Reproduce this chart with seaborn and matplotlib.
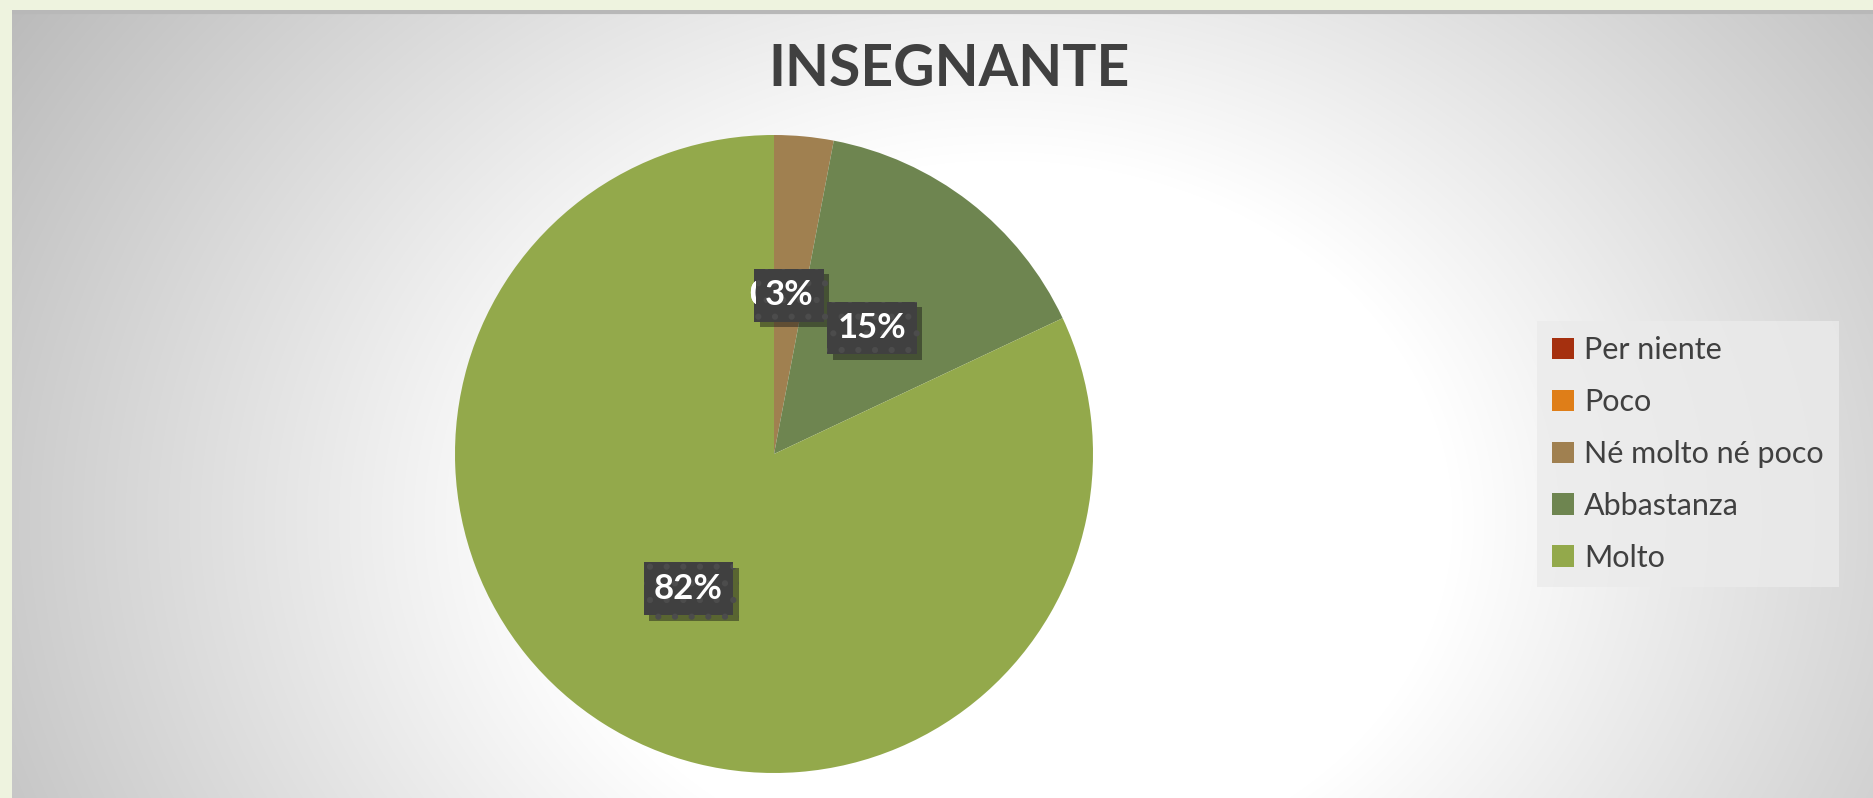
import numpy as np
import seaborn as sns
import matplotlib.pyplot as plt
from matplotlib.transforms import Bbox
import matplotlib.patheffects as pe

sns.set_theme(style="white")
plt.rcParams['font.family'] = ['Lato', 'DejaVu Sans']

# dati
categorie = ["Per niente", "Poco", "Né molto né poco", "Abbastanza", "Molto"]
valori = [0, 0, 3, 15, 82]
colori = ["#A5300F", "#DF7E18", "#A08050", "#6E8550", "#93A94B"]
titolo = "INSEGNANTE"

W, H = 1873, 798
fig = plt.figure(figsize=(W / 100, H / 100), dpi=100)
fig.patch.set_facecolor("#EEF3DF")

# sfondo con gradiente radiale
bg = fig.add_axes([12 / W, 0, (W - 12) / W, (H - 10) / H])
yy, xx = np.mgrid[0:788, 0:1861]
d = np.sqrt(((xx - 990) / 1000) ** 2 + ((yy - 510) / 800) ** 2)
val = 1 - 0.25 * np.clip((d - 0.45) / 0.68, 0, 1.1)
bg.imshow(np.dstack([val] * 3), aspect="auto", extent=(0, 1861, 788, 0))
bg.axhline(1.5, color="#B8B8B8", lw=3)
bg.set_xlim(0, 1861)
bg.set_ylim(788, 0)
bg.axis("off")

# torta
ax = fig.add_axes([455 / W, 25 / H, 638 / W, 638 / H])
wedges, _, autotexts = ax.pie(
    valori, colors=colori, startangle=90, counterclock=False,
    autopct=lambda p: f"{p:.0f}%", pctdistance=0.5,
    wedgeprops=dict(linewidth=0),
    textprops=dict(color="white", fontsize=25, fontweight="bold"))
ax.set_xlim(-1, 1)
ax.set_ylim(-1, 1)

plt.rcParams['hatch.linewidth'] = 2.0
for i, t in enumerate(autotexts):
    if valori[i] == 0:
        continue
    t.set_zorder(10 + i)
    t.set_bbox(dict(boxstyle="square,pad=0.3", fc="#404040", ec="#4C4C4C",
                    lw=0, hatch="."))
    t.get_bbox_patch().set_path_effects(
        [pe.withSimplePatchShadow(offset=(4, -4), alpha=0.45), pe.Normal()])

# le etichette 0% restano quasi coperte dal riquadro del 3%
for i, t in enumerate(autotexts):
    if valori[i] == 0:
        t.set_zorder(30)
        t.set_clip_box(Bbox([[746, 0], [756, H]]))
        t.set_clip_on(True)

fig.text(949 / W, 1 - 70 / H, titolo, ha="center", va="center",
         fontsize=41, fontweight="bold", color="#404040")

leg = fig.legend(wedges, categorie, loc="center left",
                 bbox_to_anchor=(1537 / W, 1 - 454 / H),
                 bbox_transform=fig.transFigure,
                 fontsize=22, frameon=True, fancybox=False,
                 handlelength=0.7, handleheight=0.7, handletextpad=0.35,
                 labelspacing=0.78, borderpad=0.5, borderaxespad=0)
leg.get_frame().set_facecolor("#EBEBEB")
leg.get_frame().set_alpha(0.8)
leg.get_frame().set_linewidth(0)
for txt in leg.get_texts():
    txt.set_color("#404040")

fig.savefig("out.png", dpi=100, facecolor=fig.get_facecolor())
